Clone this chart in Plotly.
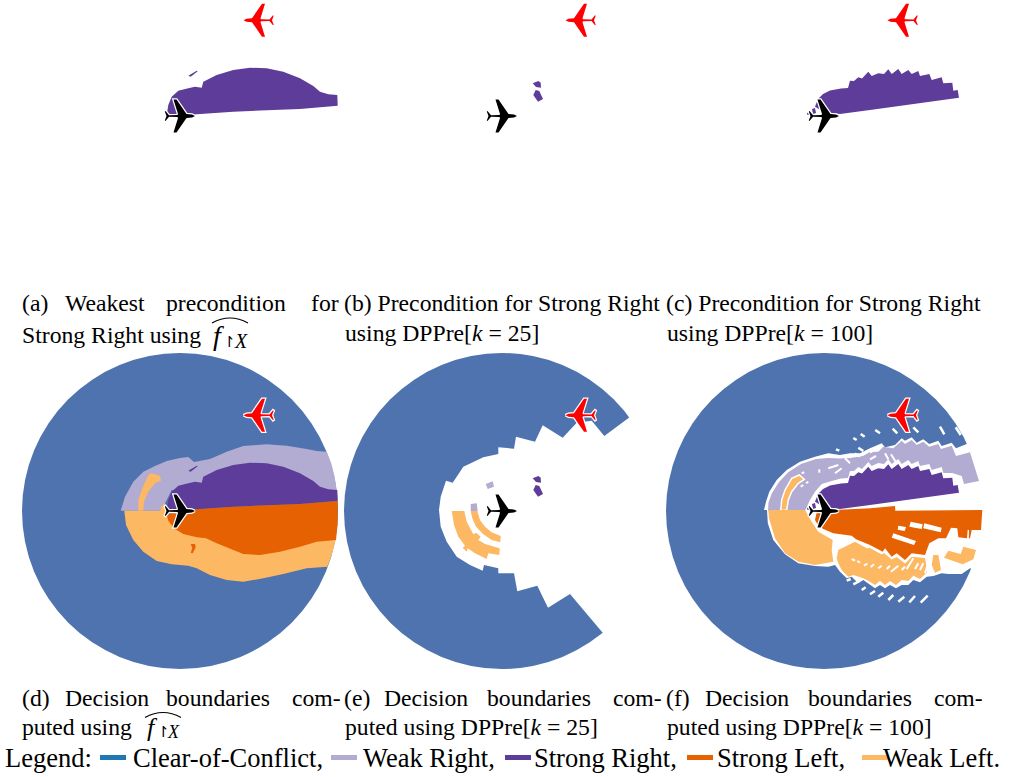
import numpy as np
import plotly.graph_objects as go

W, H = 1010, 777
BLUE, LAV, PUR, ORG, LOR = "#4e73ae", "#b2abd2", "#5e3c99", "#e66101", "#fdb863"
LEG_BLUE = "#1f78b4"
FONT = "Liberation Serif"

# ---- regions, offsets from the own aircraft ----
NEURAL_WR = [(-59.3,0.3),(-55,14.3),(-46.7,29.3),(-36.7,39.3),(-25,45),(-13.3,50),(0,53),(8.3,54),(14,49),(30,52),(46.7,59.3),(63.3,65),(86.7,66.7),(106.7,65.3),(126.7,62),(136.7,60),(146.7,59.3),(150.7,49.3),(154.3,36),(156.7,21),(156.7,12),(0,20),(-8.3,21),(-12.3,12.7),(-15,7.7),(-20,0.3)]
NEURAL_WR_STREAK = [(-41.7,0.3),(-41.7,11),(-38.3,21),(-31.7,36),(-28.3,37.7),(-20,35),(-19,30.3),(-25,27.7),(-31.7,19.3),(-36,9.3),(-36.7,0.3)]
NEURAL_SR = [(-13.3,1),(-11.7,11),(-8.3,19.3),(-1.7,25.3),(8.3,27.7),(15,29.3),(21.7,28.3),(23.3,34.3),(36.7,41),(53.3,46),(70,48.3),(86.7,47.7),(103.3,44.3),(120,37.7),(133.3,30),(140,24.3),(148.3,21.7),(157.3,21),(157.7,10.3),(120,7),(86.7,5.7),(53.3,4.3),(16.7,1.7),(0,-0.3)]
NEURAL_SR_SLIVER = [(8.3,40.3),(16.7,45.3),(17.7,44.7),(10.7,39.3)]
NEURAL_SL = [(157.7,10),(120,7),(86.7,5.7),(53.3,4.3),(16.7,1.7),(0,-0.3),(-13.3,-4),(-11.7,-9.7),(-6,-17.3),(3.3,-23),(16.7,-26.3),(26,-27.3),(36.7,-32.3),(50,-37.3),(63.3,-43),(80,-44),(100,-40.7),(120,-35.7),(136.7,-30.7),(156,-29),(157.7,-12.3)]
NEURAL_SL_COMMA = [(10.7,-33),(15,-33),(15.7,-36.3),(12.7,-42.3),(10.7,-41.7),(12.3,-37.3)]
NEURAL_WL = [(-55.7,0.3),(-54,-14),(-46.7,-29),(-36.7,-40.7),(-23.3,-50),(-8.3,-53.3),(8.3,-54.7),(16.7,-57.3),(30,-64),(46.7,-69),(63.3,-70.7),(83.3,-67.3),(103.3,-63),(126.7,-57.3),(147.3,-55.7),(151.7,-44),(155.7,-29),(150,-20),(0,-15),(-13,-2),(-15,8.3),(-18.3,5),(-20,0.3)]

K25_UNCOVERED = [(140,103),(127.3,93.3),(102.3,75),(89.7,90.3),(74.7,88.3),(60.7,73.3),(40.7,85.7),(33,69.3),(14,74.3),(12,62.3),(-3.7,63.7),(-3.7,57),(-18.7,53.7),(-38.7,44.3),(-49.3,28.3),(-56,30.3),(-61.3,14.3),(-63,1),(-61.3,-15.7),(-55.3,-30.7),(-45.3,-45.7),(-32,-54),(-19.3,-59.7),(-18,-54),(-3.7,-57.3),(-3.7,-62.3),(12,-62.3),(15.3,-80.3),(35.3,-74.7),(46,-96.7),(68,-83),(100.7,-121.7),(110,-135),(165,-135),(165,103)]
K25_WR_A = [(-16.3,27),(-9.3,29.7),(-8,24.3),(-14.3,22)]
K25_WR_B = [(-31.3,7),(-25.3,7.7),(-24.3,0),(-31.3,0)]
K25_SR_A = [(30.7,32.7),(36.3,35),(38.7,33.3),(39,28.3),(34,29)]
K25_SR_B = [(33.7,26),(37.3,25),(41,17),(36,14.3),(31.3,21),(32.7,23.7)]
K25_WL_INNER = [(-31.3,0),(-24.7,0),(-22,-9),(-17,-15.7),(-10.3,-21.3),(-1.3,-25),(-1.7,-31.3),(-10.3,-29),(-18.7,-23.3),(-26,-15.7),(-29.7,-7.3)]
K25_WL_OUTER = [(-50.3,0),(-37.7,0),(-35.3,-10.7),(-28.7,-23.3),(-26,-21.7),(-21.3,-25.7),(-23.7,-29),(-17,-33),(-2.3,-37.3),(-2.7,-44),(-13.7,-42.3),(-15.3,-48),(-27,-42.3),(-34.3,-37.3),(-35.3,-40.7),(-39.3,-36.7),(-37,-34.7),(-43.7,-25.7),(-48,-14)]

K100_UNCOVERED = [(-60,1),(-58,9.3),(-54.7,19.3),(-47.3,31),(-37.3,41),(-24,49.3),(-9,54.3),(4.3,57.7),(16,56),(26,57.7),(36,57.7),(46,62.7),(57.7,67.7),(61,63.7),(71,66),(77.7,72.7),(81,70.3),(87.7,73.7),(92.7,68.3),(99.3,71.7),(105.3,67),(114.3,70.3),(117.7,65),(127.7,68.3),(132,62.7),(142.7,67),(165,75),(165,-65),(146,-57.3),(137.7,-63),(124.3,-63),(117.7,-62.3),(109.3,-65),(102.7,-65.7),(96,-71.3),(89.3,-69),(84.3,-74),(77.7,-74),(72,-77.3),(66,-74),(61,-77.3),(56,-74),(51,-77.3),(46,-74),(39.3,-69),(34.3,-72.3),(27.7,-65.7),(22.7,-67.3),(16,-60.7),(11,-54),(4.3,-55.7),(-9,-55),(-20.7,-53.3),(-25.7,-52.3),(-39,-43.3),(-50.7,-29),(-56.2,-12.3),(-57,1)]
K100_WR = [(-56,0.3),(-55.5,8.5),(-52,18),(-45,29),(-35.5,39),(-23,47),(-8,52),(1,53),(4,53),(16,52.5),(26,53),(39,55),(46,59),(54.3,59.3),(59.3,64.3),(69.3,62.7),(77.7,70.3),(81,67),(87.7,71),(92.7,66),(99.3,69.3),(105.3,64.3),(114.3,67),(117,62),(127.7,65.3),(132,55),(146,58.7),(155,30),(140,27),(137.7,35),(128.3,38),(119.3,38),(117.7,44),(107.7,41),(105.3,47),(96,45),(94.3,50),(87.7,47),(84.3,51),(77.7,47),(74.3,52),(67.7,47),(64.3,52),(60,47),(54.3,48),(47.7,45),(44.3,49),(38,42),(34.3,44),(30,40),(26,40),(24,33),(17,32.5),(7.7,30),(-2.3,27),(-9,19.3),(-14,11),(-19,0.3)]
K100_WL_STREAK = [(-43.3,0.3),(-42.3,11),(-39,21),(-32.3,32.7),(-24.7,36),(-19.7,31.7),(-25.7,27.7),(-32.3,19.3),(-35.7,11),(-37.3,1)]
K100_SR = [(-9,9.3),(-6,17),(-1,22),(6,25.5),(17,27.5),(24,28),(26,35.3),(30,35),(34.3,38.7),(38,37.5),(44.3,44.3),(47.7,40),(54.3,42.7),(60,42),(64.3,46.7),(67.7,42),(74.3,47),(77.7,42),(84.3,46),(87.7,42),(94.3,45),(96,40),(105.3,42),(107.7,36),(117.7,38.7),(119.3,32.7),(128.3,33.3),(129.3,25.3),(133.7,26),(135,18.3),(46,6),(16,2),(0,4)]
K100_SR_BITS = [(-12,7),(-9,8),(-8,3),(-11,2)]
K100_SR_BITS2 = [(-17,3),(-14.5,4),(-14,1),(-16.5,1)]
K100_SL = [(10,1),(46,2.7),(71,5),(71.3,0.3),(158.3,1),(157,-19),(147.7,-19),(146,-27.3),(144.8,-27.3),(145,-19),(143.7,-19),(143,-27.3),(134.3,-26.3),(133.3,-17.3),(127,-16.7),(122,-27.3),(114.3,-27.3),(105.3,-32.3),(101,-44),(87.7,-42.3),(81,-49),(72.7,-42.3),(67.7,-45.7),(61,-37.3),(58.7,-40.7),(46,-34),(32,-28.3),(27.7,-24.7),(9.3,-22.3),(-0.7,-18),(-5.7,-14.7),(-9,-9),(-7,0)]
K100_SL_GAP_A = [(74.3,-14.7),(82,-16),(80.7,-20),(73.7,-18.7)]
K100_SL_GAP_B = [(86.7,-10.7),(98.7,-13.3),(97.7,-18),(85.3,-15.7)]
K100_SL_GAP_C = [(100.3,-12.3),(117.7,-16.7),(116.7,-21.3),(99.3,-17.3)]
K100_SL_GAP_D = [(69.3,-22.3),(92,-30),(90,-34),(67.7,-26.7)]
K100_WL_MAIN = [(-55.7,1),(-55,-7.3),(-49,-27.3),(-39,-42.3),(-25.7,-50.7),(-9,-54),(9.3,-50.7),(7.7,-39),(8.7,-29),(-5.7,-20.7),(-12.3,-10.7),(-19,1)]
K100_WL_BLOB = [(12.7,-47.3),(14.3,-39),(31,-30.7),(42.7,-37.3),(46,-37),(57.7,-43.5),(60,-42),(67.7,-48.5),(72.7,-46),(81,-52.5),(87.7,-45.7),(101,-47),(103,-58),(102.7,-61.7),(96,-68),(89.3,-64.7),(84.3,-70),(77.7,-69),(72,-74),(66,-70),(61,-74),(56,-69.7),(51,-74),(46,-70.7),(39.3,-67.3),(29.3,-64),(24.3,-65.7),(17.7,-59),(14.3,-52.3)]
K100_WL_ISLAND_A = [(109.3,-44),(114.3,-44),(117,-59),(111,-61.7),(107.7,-54)]
K100_WL_ISLAND_B = [(124.3,-39.7),(136.7,-43),(139.3,-35.7),(152,-39),(149.3,-48.3),(138.7,-53.3),(120,-46.7)]
K100_DASH_ON_BLUE = [((12,61.7),(15.3,60.3)),((29.3,73),(32.7,71)),((36.7,77),(40.7,74.3)),((51.3,81),(56,77.7)),((68.7,82.3),(73.3,77.7)),((89.3,83.7),(94.3,78.7)),((116,84.3),(120.3,76.7)),((131.7,83.7),(136.7,76)),((34.3,63.3),(39.3,60)),((22.7,-69.7),(26.7,-68)),((29.3,-73.3),(34.3,-70.7)),((37.7,-79),(41.7,-76.3)),((46,-83.3),(51,-80)),((54.3,-85.7),(59.3,-81.7)),((64.3,-89),(69.3,-84)),((74.3,-90.7),(80.3,-85.7)),((85.3,-91.3),(91,-85)),((96.7,-91.7),(103.7,-84.7))]
K100_DASH_ON_WL = [((27.7,-48),(31,-49.7)),((33.3,-50),(36,-51.7)),((40,-54.7),(43.3,-52.7)),((46.7,-56),(50,-53.3)),((54.3,-57.3),(57.7,-54.7)),((62.7,-58),(66,-54.7)),((67,-60.7),(74.3,-54.7)),((77.7,-59),(81,-55.7)),((82.7,-58),(89.3,-47.3)),((91,-58),(94.3,-52.3)),((96,-59),(99.3,-52.3)),((101,-62.3),(104.3,-52.3))]
K100_DASH_ON_WR = [((46,58.3),(53.3,62.7)),((46,51.7),(52,55)),((61,57.7),(64.3,51.7)),((67,56.7),(71.7,49.3)),((-4.7,41.7),(-4.7,38.3)),((-23.3,24.3),(-20.7,26)),((-18,27.7),(-15.7,29.3)),((-22.3,37.7),(-19.7,38.7)),((4.3,42.7),(14.3,46)),((11,37.7),(17.7,42.7)),((21,52.7),(26,47.7)),((31,57.7),(36,54.3))]

# upper half of the aircraft outline, nose to tail; the lower half mirrors it
PLANE_HALF = [(15,0),(12,1.5),(6.5,2),(-3.5,16.5),(-6.5,16.5),(-2,2),(-2.5,1),(-11,0.8),(-14.5,5),(-15.2,4.5),(-13.5,0)]
INTRUDER_OFFSET = (78.5, 95.8)

# ---- texts ----
CAPTIONS = [
    (22, 303, "(a)"), (65, 303, "Weakest"), (166, 303, "precondition"), (311, 303, "for"),
    (344, 303, "(b) Precondition for Strong Right"),
    (666, 303, "(c) Precondition for Strong Right"),
    (22, 335, "Strong Right using"),
    (345, 333, "using DPPre[<i>k</i> = 25]"),
    (667, 333, "using DPPre[<i>k</i> = 100]"),
    (22, 698, "(d)"), (65, 698, "Decision"), (166, 698, "boundaries"), (292, 698, "com-"),
    (344, 698, "(e)"), (384, 698, "Decision"), (487, 698, "boundaries"), (613, 698, "com-"),
    (666, 698, "(f)"), (705, 698, "Decision"), (808, 698, "boundaries"), (934, 698, "com-"),
    (22, 727, "puted using"),
    (345, 727, "puted using DPPre[<i>k</i> = 25]"),
    (667, 727, "puted using DPPre[<i>k</i> = 100]"),
]
MATH_F = [(213, 335), (147, 727)]
MATH_RESTRICT = [(223, 342), (157, 732)]
MATH_X = [(234, 341), (166.5, 732)]
HAT_X = [212, 145]
HAT_Y = [323, 717.5]
LEGEND_NAMES = ["Clear-of-Conflict,", "Weak Right,", "Strong Right,", "Strong Left,", "Weak Left."]
LEGEND_COLORS = [LEG_BLUE, LAV, PUR, ORG, LOR]
LEGEND_SWATCH_X = [100, 331, 505, 687, 862]
LEGEND_TEXT_X = [133, 363, 534, 717, 883]

fig = go.Figure()
COLS = [19, 341, 663]
ROWS = [(0, 276, -160, 116), (350, 672, -161, 161)]
shapes, annots = [], []

def ax_id(col, row):
    return col + 3 * row + 1

layout = {}
for row, (top, bot, lo, hi) in enumerate(ROWS):
    for col, left in enumerate(COLS):
        n = ax_id(col, row)
        s = "" if n == 1 else str(n)
        layout["xaxis" + s] = dict(domain=[left / W, (left + 322) / W], range=[-161, 161], visible=False, anchor="y" + s, fixedrange=True)
        layout["yaxis" + s] = dict(domain=[1 - bot / H, 1 - top / H], range=[lo, hi], visible=False, anchor="x" + s, fixedrange=True)

def refs(n):
    return ("x", "y") if n == 1 else (f"x{n}", f"y{n}")

def poly(n, pts, color, outline=None, width=0):
    xr, yr = refs(n)
    xs = [p[0] for p in pts] + [pts[0][0]]
    ys = [p[1] for p in pts] + [pts[0][1]]
    fig.add_trace(go.Scatter(x=xs, y=ys, xaxis=xr, yaxis=yr, mode="lines", fill="toself", fillcolor=color,
                             line=dict(color=outline or color, width=width if outline else 0),
                             hoverinfo="skip", showlegend=False))

def dashes(n, segs, width):
    xr, yr = refs(n)
    xs, ys = [], []
    for a, b in segs:
        xs += [a[0], b[0], None]
        ys += [a[1], b[1], None]
    fig.add_trace(go.Scatter(x=xs, y=ys, xaxis=xr, yaxis=yr, mode="lines", line=dict(color="white", width=width),
                             hoverinfo="skip", showlegend=False))

def disk(n):
    xr, yr = refs(n)
    shapes.append(dict(type="circle", xref=xr, yref=yr, x0=-158, x1=158, y0=-158, y1=158,
                       fillcolor=BLUE, line=dict(width=0), layer="below"))

def planes(n):
    half = np.array(PLANE_HALF)
    own = np.vstack([half, (half * [1, -1])[::-1]])
    intruder = own * [-1, 1] + INTRUDER_OFFSET
    for shape, col in ((intruder, "#ff0000"), (own, "#000000")):
        poly(n, [tuple(p) for p in shape], "white", "white", 2.5)
        poly(n, [tuple(p) for p in shape], col)

# (a)
poly(1, NEURAL_SR, PUR); poly(1, NEURAL_SR_SLIVER, PUR); planes(1)
# (b)
poly(2, K25_SR_A, PUR); poly(2, K25_SR_B, PUR); planes(2)
# (c)
poly(3, K100_SR, PUR); poly(3, K100_SR_BITS, PUR); poly(3, K100_SR_BITS2, PUR); planes(3)
# (d)
disk(4)
poly(4, NEURAL_WR, LAV); poly(4, NEURAL_WL, LOR); poly(4, NEURAL_WR_STREAK, LOR)
poly(4, NEURAL_SR, PUR); poly(4, NEURAL_SL, ORG); poly(4, NEURAL_SR_SLIVER, PUR); poly(4, NEURAL_SL_COMMA, ORG)
planes(4)
# (e)
disk(5)
poly(5, K25_UNCOVERED, "white")
for p in (K25_WR_A, K25_WR_B): poly(5, p, LAV)
for p in (K25_SR_A, K25_SR_B): poly(5, p, PUR)
for p in (K25_WL_INNER, K25_WL_OUTER): poly(5, p, LOR)
planes(5)
# (f)
disk(6)
poly(6, K100_UNCOVERED, "white")
poly(6, K100_WR, LAV)
poly(6, K100_WL_STREAK, LOR, "white", 1.5)
poly(6, K100_SR, PUR); poly(6, K100_SR_BITS, PUR); poly(6, K100_SR_BITS2, PUR)
poly(6, K100_SL, ORG)
for p in (K100_SL_GAP_A, K100_SL_GAP_B, K100_SL_GAP_C, K100_SL_GAP_D): poly(6, p, "white")
for p in (K100_WL_MAIN, K100_WL_BLOB, K100_WL_ISLAND_A, K100_WL_ISLAND_B): poly(6, p, LOR)
dashes(6, K100_DASH_ON_BLUE, 2.5)
dashes(6, K100_DASH_ON_WL, 2)
dashes(6, K100_DASH_ON_WR, 2)
planes(6)

def text(px, py, s, size):
    annots.append(dict(x=px / W, y=1 - py / H, xref="paper", yref="paper", xanchor="left", yanchor="middle",
                       text=s, showarrow=False, borderpad=0, xshift=-1,
                       font=dict(family=FONT, size=size, color="black")))

for px, py, s in CAPTIONS:
    text(px, py, s, 23.7)
for i, ((fx, fy), (rx, ry), (xx, xy), hx, hy) in enumerate(zip(MATH_F, MATH_RESTRICT, MATH_X, HAT_X, HAT_Y)):
    text(fx, fy, "<i>f</i>", 28 if i == 0 else 26)
    text(rx, ry, "↾", 15)
    text(xx, xy, "<i>X</i>", 20 if i == 0 else 18)
    # the wide hat over f|X
    shapes.append(dict(type="path", xref="paper", yref="paper",
                       path=f"M {hx / W} {1 - hy / H} Q {(hx + 18) / W} {1 - (hy - 10) / H} {(hx + 36) / W} {1 - hy / H}",
                       line=dict(color="black", width=1.2)))

text(5, 758, "Legend:", 26.5)
for sx, tx, name, color in zip(LEGEND_SWATCH_X, LEGEND_TEXT_X, LEGEND_NAMES, LEGEND_COLORS):
    text(tx, 758, name, 26.5)
    shapes.append(dict(type="rect", xref="paper", yref="paper", x0=sx / W, x1=(sx + 26) / W,
                       y0=1 - 760 / H, y1=1 - 755 / H, fillcolor=color, line=dict(width=0)))

fig.update_layout(width=W, height=H, margin=dict(l=0, r=0, t=0, b=0), paper_bgcolor="white", plot_bgcolor="rgba(0,0,0,0)",
                  shapes=shapes, annotations=annots, showlegend=False, **layout)
fig.write_html("out.html", post_script="document.body.style.margin='0';document.documentElement.style.overflow='hidden';",
               config={"displayModeBar": False})
